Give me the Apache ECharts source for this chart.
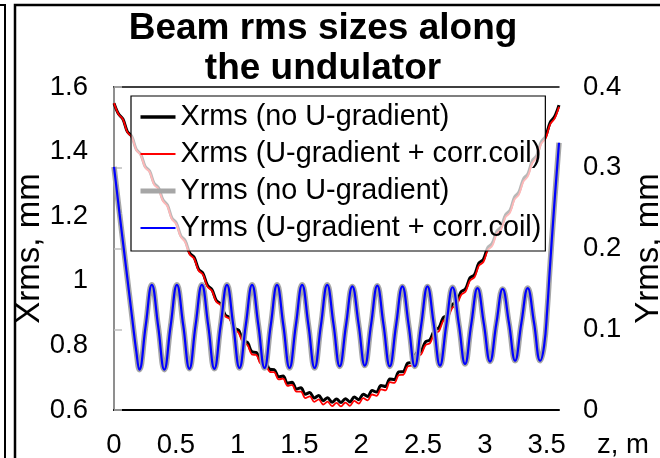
<!DOCTYPE html>
<html><head><meta charset="utf-8">
<script src="https://cdn.jsdelivr.net/npm/echarts@6/dist/echarts.min.js"></script>
<style>html,body{margin:0;padding:0;background:#fff;overflow:hidden}#c{width:660px;height:458px}</style>
</head><body><div id="c"></div>
<script>
const titleLines = ['Beam rms sizes along', 'the undulator'];
const seriesNames = ['Xrms (no U-gradient)', 'Xrms (U-gradient + corr.coil)', 'Yrms (no U-gradient)', 'Yrms (U-gradient + corr.coil)'];
const xAxisName = 'z, m';
const yLeftName = 'Xrms, mm';
const yRightName = 'Yrms, mm';

// z positions (m) for the Xrms curves
const xZ = [0, 0.036, 0.072, 0.108, 0.144, 0.18, 0.216, 0.252, 0.288, 0.324, 0.36, 0.396, 0.432, 0.468, 0.504, 0.54, 0.576, 0.612, 0.648, 0.684, 0.72, 0.756, 0.792, 0.828, 0.864, 0.9, 0.936, 0.972, 1.008, 1.044, 1.08, 1.116, 1.152, 1.188, 1.224, 1.26, 1.296, 1.332, 1.368, 1.404, 1.44, 1.476, 1.512, 1.548, 1.584, 1.62, 1.656, 1.692, 1.728, 1.764, 1.8, 1.836, 1.872, 1.908, 1.944, 1.98, 2.016, 2.052, 2.088, 2.124, 2.16, 2.196, 2.232, 2.268, 2.304, 2.34, 2.376, 2.412, 2.448, 2.484, 2.52, 2.556, 2.592, 2.628, 2.664, 2.7, 2.736, 2.772, 2.808, 2.844, 2.88, 2.916, 2.952, 2.988, 3.024, 3.06, 3.096, 3.132, 3.168, 3.204, 3.24, 3.276, 3.312, 3.348, 3.384, 3.42, 3.456, 3.492, 3.528, 3.564, 3.6];
// Xrms (mm), no U-gradient
const xrmsNoGrad = [1.550, 1.517, 1.501, 1.462, 1.447, 1.407, 1.392, 1.354, 1.340, 1.302,
  1.288, 1.251, 1.235, 1.195, 1.179, 1.140, 1.124, 1.086, 1.073, 1.036,
  1.023, 0.986, 0.973, 0.939, 0.928, 0.894, 0.886, 0.854, 0.847, 0.816,
  0.809, 0.780, 0.778, 0.751, 0.750, 0.726, 0.725, 0.703, 0.705, 0.683,
  0.686, 0.665, 0.669, 0.649, 0.654, 0.637, 0.645, 0.629, 0.638, 0.624,
  0.634, 0.623, 0.635, 0.625, 0.640, 0.632, 0.649, 0.642, 0.660, 0.656,
  0.676, 0.673, 0.696, 0.694, 0.718, 0.719, 0.745, 0.748, 0.777, 0.782,
  0.811, 0.817, 0.847, 0.854, 0.886, 0.894, 0.926, 0.934, 0.966, 0.975,
  1.009, 1.019, 1.055, 1.066, 1.103, 1.116, 1.153, 1.167, 1.205, 1.219,
  1.259, 1.275, 1.315, 1.331, 1.372, 1.388, 1.430, 1.447, 1.490, 1.508,
  1.544];
// Xrms (mm), U-gradient + corr. coil
const xrmsGrad = [1.550, 1.516, 1.500, 1.460, 1.445, 1.405, 1.389, 1.351, 1.337, 1.298,
  1.284, 1.247, 1.231, 1.191, 1.175, 1.136, 1.120, 1.082, 1.069, 1.032,
  1.019, 0.982, 0.969, 0.935, 0.924, 0.890, 0.882, 0.850, 0.839, 0.808,
  0.801, 0.772, 0.770, 0.743, 0.742, 0.718, 0.717, 0.695, 0.697, 0.675,
  0.678, 0.657, 0.657, 0.637, 0.642, 0.625, 0.633, 0.617, 0.626, 0.612,
  0.622, 0.611, 0.623, 0.613, 0.628, 0.620, 0.637, 0.630, 0.648, 0.644,
  0.664, 0.661, 0.686, 0.684, 0.708, 0.709, 0.735, 0.738, 0.767, 0.772,
  0.801, 0.807, 0.837, 0.844, 0.876, 0.884, 0.916, 0.924, 0.956, 0.967,
  1.001, 1.011, 1.047, 1.058, 1.095, 1.108, 1.145, 1.159, 1.197, 1.211,
  1.251, 1.267, 1.307, 1.323, 1.364, 1.382, 1.424, 1.441, 1.484, 1.502,
  1.539];

// z positions (m) for the Yrms curves
const yZ = [0, 0.045, 0.09, 0.15, 0.18, 0.205, 0.256, 0.306, 0.357, 0.407, 0.458, 0.509, 0.56, 0.61, 0.66, 0.711, 0.762, 0.812, 0.863, 0.914, 0.965, 1.015, 1.066, 1.117, 1.168, 1.218, 1.268, 1.319, 1.37, 1.42, 1.471, 1.522, 1.573, 1.623, 1.674, 1.725, 1.776, 1.826, 1.877, 1.928, 1.979, 2.029, 2.08, 2.13, 2.18, 2.231, 2.282, 2.333, 2.384, 2.434, 2.485, 2.536, 2.587, 2.637, 2.688, 2.739, 2.79, 2.84, 2.89, 2.941, 2.992, 3.042, 3.093, 3.144, 3.195, 3.245, 3.296, 3.347, 3.398, 3.448, 3.48, 3.505, 3.526, 3.56, 3.6];
// Yrms (mm), no U-gradient
const yrmsNoGrad = [0.301, 0.243, 0.186, 0.110, 0.073, 0.050, 0.104, 0.155, 0.104, 0.050,
  0.104, 0.155, 0.105, 0.051, 0.105, 0.155, 0.105, 0.051, 0.105, 0.155,
  0.105, 0.052, 0.105, 0.155, 0.105, 0.052, 0.105, 0.155, 0.105, 0.052,
  0.105, 0.155, 0.105, 0.052, 0.105, 0.155, 0.106, 0.054, 0.105, 0.153,
  0.106, 0.055, 0.106, 0.154, 0.106, 0.054, 0.105, 0.153, 0.105, 0.054,
  0.105, 0.153, 0.106, 0.055, 0.105, 0.152, 0.106, 0.057, 0.106, 0.151,
  0.107, 0.060, 0.107, 0.150, 0.108, 0.061, 0.108, 0.151, 0.108, 0.061,
  0.080, 0.125, 0.175, 0.250, 0.331];
// Yrms (mm), U-gradient + corr. coil
const yrmsGrad = [0.301, 0.243, 0.186, 0.110, 0.073, 0.050, 0.104, 0.155, 0.104, 0.050,
  0.104, 0.155, 0.105, 0.051, 0.105, 0.155, 0.105, 0.051, 0.105, 0.155,
  0.105, 0.052, 0.105, 0.155, 0.105, 0.052, 0.105, 0.155, 0.105, 0.052,
  0.105, 0.155, 0.105, 0.052, 0.105, 0.155, 0.106, 0.054, 0.105, 0.153,
  0.106, 0.055, 0.106, 0.154, 0.106, 0.054, 0.105, 0.153, 0.105, 0.054,
  0.105, 0.153, 0.106, 0.055, 0.105, 0.152, 0.106, 0.057, 0.106, 0.151,
  0.107, 0.060, 0.107, 0.150, 0.108, 0.061, 0.108, 0.151, 0.108, 0.061,
  0.080, 0.125, 0.175, 0.250, 0.331];

const FONT = "'Liberation Sans', Arial, sans-serif";
const pairs = (zs, vs) => zs.map((z, i) => [z, vs[i]]);

const chart = echarts.init(document.getElementById('c'), null, {renderer: 'canvas'});
chart.setOption({
  animation: false,
  backgroundColor: '#fff',
  title: {
    text: titleLines.join('\n'),
    left: 323, top: 9, padding: 0, textAlign: 'center',
    textStyle: {fontFamily: FONT, fontWeight: 'bold', fontSize: 37, lineHeight: 40, color: '#000'}
  },
  graphic: [
    {type: 'rect', silent: true, z: 0, shape: {x: 15, y: 5, width: 700, height: 500},
     style: {fill: null, stroke: '#000', lineWidth: 2.5}},
    {type: 'polyline', silent: true, z: 0, shape: {points: [[0, 5], [5, 5], [5, 460]]},
     style: {fill: null, stroke: '#000', lineWidth: 2}}
  ],
  grid: {left: 114, right: 101, top: 87, bottom: 48, containLabel: false, outerBoundsMode: 'none'},
  legend: {
    orient: 'vertical', left: 131, top: 96,
    itemWidth: 35, itemHeight: 14, itemGap: 7, padding: [6, 4, 8, 7],
    backgroundColor: 'rgba(255,255,255,0.72)', borderColor: '#000', borderWidth: 1.2,
    textStyle: {fontFamily: FONT, fontSize: 28.8, color: '#000', lineHeight: 30},
    selectedMode: false,
    data: [
      {name: seriesNames[0], lineStyle: {width: 3.5, color: '#000'}, itemStyle: {opacity: 0}},
      {name: seriesNames[1], lineStyle: {width: 1.8, color: '#ff0000'}, itemStyle: {opacity: 0}},
      {name: seriesNames[2], lineStyle: {width: 5, color: '#a6a6a6'}, itemStyle: {opacity: 0}},
      {name: seriesNames[3], lineStyle: {width: 2, color: '#0000ff'}, itemStyle: {opacity: 0}}
    ]
  },
  xAxis: [
    {type: 'value', min: 0, max: 3.6, interval: 0.5, position: 'bottom',
     name: xAxisName, nameLocation: 'end', nameGap: 38, nameMoveOverlap: false,
     nameTextStyle: {fontFamily: FONT, fontSize: 27.5, color: '#000', verticalAlign: 'top', padding: [21, 0, 0, 0]},
     axisLine: {onZero: false, lineStyle: {color: '#000', width: 2}},
     axisTick: {show: false}, splitLine: {show: false},
     axisLabel: {fontFamily: FONT, fontSize: 27.5, color: '#000', margin: 21, showMaxLabel: false}},
    {type: 'value', min: 0, max: 3.6, interval: 0.5, position: 'top',
     axisLine: {onZero: false, lineStyle: {color: '#000', width: 1.5}},
     axisTick: {show: false}, splitLine: {show: false}, axisLabel: {show: false}}
  ],
  yAxis: [
    {type: 'value', min: 0.6, max: 1.6, interval: 0.2, position: 'left',
     name: yLeftName, nameLocation: 'middle', nameRotate: 90, nameGap: 68, nameMoveOverlap: false,
     nameTextStyle: {fontFamily: FONT, fontSize: 33, color: '#000'},
     axisLine: {show: true, lineStyle: {color: '#000', width: 2}},
     axisTick: {show: false}, splitLine: {show: false},
     axisLabel: {fontFamily: FONT, fontSize: 27.5, color: '#000', margin: 26}},
    {type: 'value', min: 0, max: 0.4, interval: 0.1, position: 'right',
     name: yRightName, nameLocation: 'middle', nameRotate: 90, nameGap: 73, nameMoveOverlap: false,
     nameTextStyle: {fontFamily: FONT, fontSize: 33, color: '#000'},
     axisLine: {show: true, lineStyle: {color: '#bfbfbf', width: 1.5}},
     axisTick: {show: true, inside: false, length: 8, lineStyle: {color: '#bfbfbf', width: 1.5}},
     splitLine: {show: false},
     axisLabel: {fontFamily: FONT, fontSize: 27.5, color: '#000', margin: 24}}
  ],
  series: [
    {name: seriesNames[0], type: 'line', xAxisIndex: 0, yAxisIndex: 0, symbol: 'none', smooth: 0.35,
     data: pairs(xZ, xrmsNoGrad), lineStyle: {color: '#000', width: 3}, itemStyle: {color: '#000'}, z: 2},
    {name: seriesNames[1], type: 'line', xAxisIndex: 0, yAxisIndex: 0, symbol: 'none', smooth: 0.35,
     data: pairs(xZ, xrmsGrad), lineStyle: {color: '#ff0000', width: 1.8}, itemStyle: {color: '#ff0000'}, z: 3},
    {name: seriesNames[2], type: 'line', xAxisIndex: 0, yAxisIndex: 1, symbol: 'none', smooth: 0.45,
     data: pairs(yZ, yrmsNoGrad), lineStyle: {color: '#a6a6a6', width: 5.5}, itemStyle: {color: '#a6a6a6'}, z: 4},
    {name: seriesNames[3], type: 'line', xAxisIndex: 0, yAxisIndex: 1, symbol: 'none', smooth: 0.45,
     data: pairs(yZ, yrmsGrad), lineStyle: {color: '#0000ff', width: 2.2}, itemStyle: {color: '#0000ff'}, z: 5}
  ]
});
</script></body></html>
